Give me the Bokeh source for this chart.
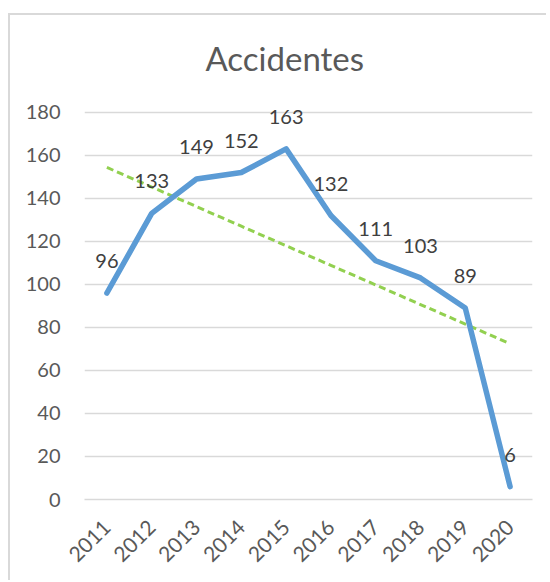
import numpy as np
from bokeh.plotting import figure
from bokeh.models import FactorRange, Range1d, ColumnDataSource, LabelSet, Label
from bokeh.core.properties import value
from bokeh.embed import file_html
from bokeh.resources import INLINE
from math import pi

years = ["2011", "2012", "2013", "2014", "2015", "2016", "2017", "2018", "2019", "2020"]
accidentes = [96, 133, 149, 152, 163, 132, 111, 103, 89, 6]
y_ticks = [0, 20, 40, 60, 80, 100, 120, 140, 160, 180]
title_text = "Accidentes"

FONT = "Lato"
GRID = "#d9d9d9"
TXT = "#595959"

# plot area extends to the top of the chart box so the title and top labels are not clipped
p = figure(width=538, height=567, x_range=FactorRange(factors=years, range_padding=0),
           y_range=Range1d(0, 225), output_backend="svg", toolbar_location=None,
           min_border_left=74, min_border_right=16, min_border_top=0, min_border_bottom=83)
p.margin = (13, 0, 0, 8)
p.styles = {"border-top": "2px solid #d9d9d9", "border-left": "2px solid #d9d9d9"}
p.outline_line_color = None
p.background_fill_color = "white"

p.yaxis.ticker = y_ticks
p.yaxis.axis_line_color = None
p.yaxis.major_tick_line_color = None
p.yaxis.minor_tick_line_color = None
p.yaxis.major_label_text_font = FONT
p.yaxis.major_label_text_font_size = "20px"
p.yaxis.major_label_text_color = TXT
p.yaxis.major_label_standoff = 18

p.xaxis.axis_line_color = GRID
p.xaxis.axis_line_width = 1.5
p.xaxis.major_tick_line_color = None
p.xaxis.minor_tick_line_color = None
p.xaxis.major_label_orientation = pi / 4
p.xaxis.major_label_text_font = FONT
p.xaxis.major_label_text_font_size = "21px"
p.xaxis.major_label_text_color = TXT
p.xaxis.major_label_standoff = 18

p.xgrid.grid_line_color = None
p.ygrid.grid_line_color = GRID
p.ygrid.grid_line_width = 1.5

src = ColumnDataSource(dict(x=years, y=accidentes, lbl=[str(v) for v in accidentes]))

# linear trendline (least squares over the data)
idx = np.arange(1, len(accidentes) + 1)
m, b = np.polyfit(idx, accidentes, 1)
trend = [m * i + b for i in idx]
p.line(years, trend, line_color="#92D050", line_width=3, line_dash="7 4")

p.line("x", "y", source=src, line_color="#5B9BD5", line_width=5.5, line_join="round", line_cap="round")

labels = LabelSet(x="x", y="y", text="lbl", source=src, text_align="center", text_baseline="middle",
                  y_offset=32, text_font=value(FONT), text_font_size=value("20px"),
                  text_color=value("#404040"))
p.add_layout(labels)

# chart title placed above the gridded area
p.add_layout(Label(x=4.47, y=180, y_offset=54, text=title_text, text_align="center",
                   text_baseline="alphabetic", text_font=FONT, text_font_size="33px",
                   text_color=TXT))

open("out.html", "w").write(file_html(p, INLINE))
